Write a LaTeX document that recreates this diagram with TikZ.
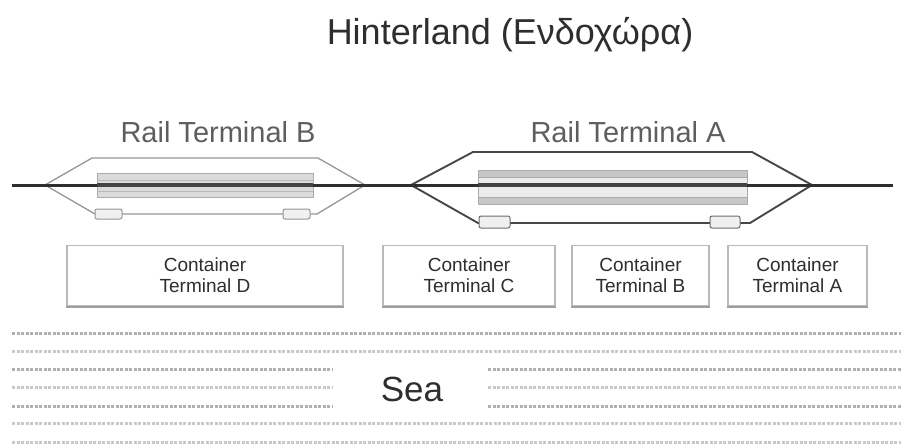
\documentclass[tikz,border=0pt]{standalone}
\usepackage{fontspec}
\setmainfont{Liberation Sans}
\definecolor{inkdark}{HTML}{2E2E2E}
\definecolor{inkmid}{HTML}{5E5E5E}
\definecolor{raildark}{HTML}{474747}
\definecolor{raillight}{HTML}{969696}
\begin{document}
\begin{tikzpicture}[
  x=1pt, y=-1pt,
  hintitle/.style = {anchor=base, text=inkdark, font=\fontsize{36}{40}\selectfont},
  raillbl/.style = {anchor=base, text=inkmid, font=\fontsize{29}{32}\selectfont},
  sealbl/.style = {anchor=base, text=inkdark, font=\fontsize{35}{38}\selectfont},
  ctbox/.style = {draw=gray!55, line width=1.8pt, fill=white, align=center,
    text=inkdark, inner sep=0pt, minimum height=60,
    font=\fontsize{19}{21}\selectfont},
  ctshadow/.style = {draw=gray!75, line width=2pt},
  railA/.style = {draw=raildark, line width=1.9pt, line join=round},
  railB/.style = {draw=raillight, line width=1.3pt, line join=round},
  railbar/.style = {draw=gray!65, line width=0.8pt},
  railpad/.style = {rounded corners=2pt, line width=1pt, fill=gray!12},
  mainrail/.style = {draw=inkdark, line width=3pt},
  sealine/.style = {line width=3pt, dash pattern=on 3pt off 1.5pt}
]
  \useasboundingbox (0,0) rectangle (901,444);
  % titles
  \node[hintitle] (title) at (510,45) {Hinterland (Ενδοχώρα)};
  \node[raillbl] (lblB) at (218,142) {Rail Terminal B};
  \node[raillbl] (lblA) at (628,142) {Rail Terminal A};
  % rail terminal B
  \draw[railB] (45,185) -- (92,158) -- (318,158) -- (365,185);
  \draw[railB] (45,185) -- (95,214) -- (317,214) -- (365,185);
  \draw[railbar, fill=gray!28] (97,173) rectangle (313,197);
  \draw[gray!55, line width=0.6pt] (97,180) -- (313,180) (97,191) -- (313,191);
  \draw[railpad, draw=raillight] (95,209) rectangle (122,219);
  \draw[railpad, draw=raillight] (283,209) rectangle (310,219);
  % rail terminal A
  \draw[railA] (411,185) -- (473,152) -- (752,152) -- (812,185);
  \draw[railA] (411,185) -- (478,223) -- (750,223) -- (812,185);
  \draw[railbar, fill=gray!45] (478,170) rectangle (747,204);
  \draw[railbar, fill=gray!15] (478,177) rectangle (747,197);
  \draw[railpad, draw=raildark!80] (479,216) rectangle (510,228);
  \draw[railpad, draw=raildark!80] (710,216) rectangle (740,228);
  % main line
  \draw[mainrail] (12,185) -- (893,185);
  \draw[mainrail, line width=4.5pt, draw=inkdark!90] (97,185) -- (313,185) (478,185) -- (747,185);
  % container terminals
  \node[ctbox, minimum width=276] (ctD) at (205,275.5) {Container\\Terminal D};
  \node[ctbox, minimum width=172] (ctC) at (469,275.5) {Container\\Terminal C};
  \node[ctbox, minimum width=137] (ctB) at (640.5,275.5) {Container\\Terminal B};
  \node[ctbox, minimum width=139] (ctA) at (797.5,275.5) {Container\\Terminal A};
  \foreach \n in {ctD, ctC, ctB, ctA}
    \draw[ctshadow] ([yshift=-1pt]\n.south west) -- ([yshift=-1pt]\n.south east);
  % sea
  \foreach \y/\c in {333/62, 351/42, 423/42, 442/42}
    \draw[sealine, draw=gray!\c] (12,\y) -- (901,\y);
  \foreach \y/\c in {369/62, 387/42, 406/62} {
    \draw[sealine, draw=gray!\c] (12,\y) -- (333,\y);
    \draw[sealine, draw=gray!\c] (488,\y) -- (901,\y);
  }
  \node[sealbl] (sea) at (412,401) {Sea};
\end{tikzpicture}
\end{document}
